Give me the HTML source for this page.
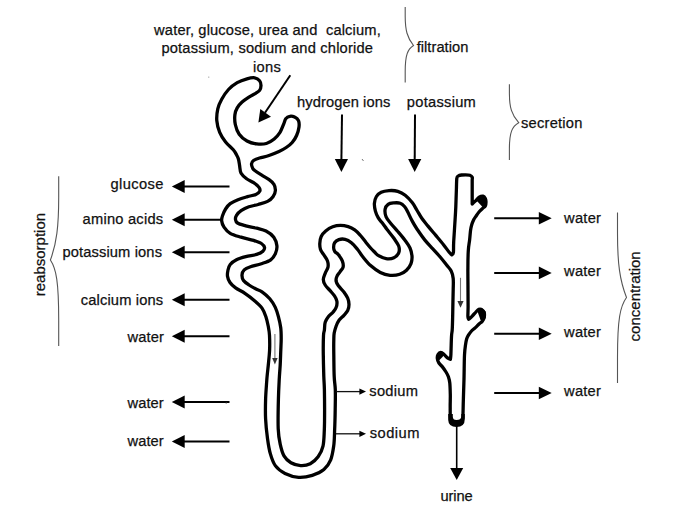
<!DOCTYPE html>
<html><head><meta charset="utf-8"><style>
html,body{margin:0;padding:0;background:#fff;width:680px;height:514px;overflow:hidden}
svg{display:block}
text{font-family:"Liberation Sans",sans-serif;font-size:14.7px;fill:#111;white-space:pre;stroke:#111;stroke-width:0.25px}
.a{stroke:#000;stroke-width:2}
.a15{stroke:#000;stroke-width:1.6}
.a13{stroke:#111;stroke-width:1.3}
.h{fill:#000}
.br{fill:none;stroke:#555;stroke-width:1.1}
.tb{fill:none;stroke:#000;stroke-width:3.3;stroke-linejoin:round}
</style></head><body>
<svg width="680" height="514" viewBox="0 0 680 514">
<rect width="680" height="514" fill="#fff"/>
<path class="tb" d="M268.3,365.0 C268.5,362.5 269.4,354.9 269.6,350.0 C269.8,345.1 269.7,339.4 269.5,335.4 C269.3,331.4 268.8,329.1 268.2,326.0 C267.6,322.9 266.9,319.7 265.9,316.7 C264.9,313.7 263.9,310.8 262.0,308.1 C260.1,305.4 257.1,302.9 254.2,300.4 C251.3,297.9 248.0,295.4 244.9,293.3 C241.8,291.2 238.1,289.7 235.6,287.9 C233.1,286.1 231.3,284.4 230.0,282.5 C228.7,280.6 227.8,278.3 227.5,276.2 C227.2,274.1 227.6,271.9 228.0,270.0 C228.4,268.1 228.8,266.2 230.2,264.5 C231.6,262.8 233.9,261.1 236.5,259.8 C239.1,258.5 242.4,257.6 245.8,256.7 C249.2,255.8 253.8,255.3 256.7,254.4 C259.5,253.5 261.6,252.4 262.9,251.2 C264.2,250.0 264.8,248.7 264.5,247.4 C264.2,246.1 263.2,244.7 261.4,243.5 C259.6,242.3 257.0,241.5 253.6,240.4 C250.2,239.3 245.0,238.4 241.1,237.2 C237.2,236.0 233.0,235.0 230.2,233.3 C227.3,231.6 225.4,229.2 224.0,227.1 C222.6,225.0 221.9,222.9 221.7,221.0 C221.4,219.1 221.8,217.8 222.5,215.8 C223.2,213.8 224.3,211.0 225.6,209.0 C226.9,207.0 228.1,205.2 230.2,203.7 C232.3,202.2 235.1,201.0 238.0,199.8 C240.9,198.6 244.4,197.6 247.4,196.7 C250.4,195.8 253.8,195.3 255.9,194.4 C258.0,193.5 259.3,192.4 259.8,191.2 C260.3,190.0 260.0,188.8 259.0,187.4 C258.0,186.0 255.7,184.1 253.6,182.7 C251.5,181.3 248.7,180.4 246.6,178.8 C244.5,177.2 242.3,175.5 241.1,173.3 C239.9,171.1 240.0,167.9 239.6,165.6 C239.2,163.3 239.0,161.1 238.5,159.3 C238.0,157.5 237.4,156.3 236.5,154.7 C235.6,153.1 235.1,151.9 233.3,149.8 C231.5,147.7 227.9,144.9 225.6,142.0 C223.3,139.1 221.2,135.9 219.7,132.3 C218.2,128.7 217.1,124.5 216.8,120.6 C216.5,116.7 217.0,112.5 217.8,108.9 C218.6,105.3 219.9,102.4 221.7,99.2 C223.5,96.0 225.9,92.3 228.5,89.5 C231.1,86.7 234.1,84.4 237.2,82.6 C240.3,80.8 244.1,79.6 247.0,78.8 C249.9,78.0 252.6,77.5 254.7,77.8 C256.8,78.1 258.6,79.4 259.6,80.7 C260.7,82.0 261.0,84.0 261.0,85.6 C261.0,87.2 260.5,89.1 259.6,90.4 C258.7,91.7 257.5,92.2 255.7,93.3 C253.9,94.4 251.2,95.7 248.9,97.2 C246.6,98.7 244.1,100.3 242.1,102.1 C240.1,103.9 238.4,105.8 237.2,107.9 C236.0,110.0 235.2,111.9 234.9,114.7 C234.6,117.5 234.6,121.2 235.3,124.5 C236.0,127.8 237.2,131.4 239.2,134.2 C241.1,136.9 244.1,139.4 247.0,141.0 C249.9,142.6 253.5,143.5 256.7,143.9 C259.9,144.3 263.5,144.3 266.4,143.5 C269.3,142.7 271.9,141.0 274.2,139.1 C276.5,137.2 278.4,134.7 280.0,132.3 C281.6,129.9 282.5,126.8 283.5,124.5 C284.5,122.2 284.8,120.0 285.9,118.6 C286.9,117.2 288.4,116.5 289.8,116.3 C291.2,116.0 293.2,116.4 294.6,117.1 C296.1,117.8 297.8,118.9 298.5,120.6 C299.2,122.2 299.3,124.5 299.0,127.0 C298.7,129.5 297.7,132.9 296.6,135.5 C295.5,138.1 293.9,140.5 292.2,142.5 C290.5,144.5 288.4,146.0 286.2,147.5 C284.0,149.0 281.9,150.2 279.0,151.5 C276.1,152.8 272.2,154.4 269.0,155.5 C265.8,156.6 262.1,157.2 259.5,158.0 C256.9,158.8 254.8,159.5 253.5,160.5 C252.2,161.5 251.6,162.7 251.5,164.0 C251.4,165.3 252.3,167.5 252.8,168.5 C253.3,169.5 253.0,169.1 254.4,170.2 C255.8,171.3 258.9,173.3 261.4,174.9 C263.8,176.5 267.0,178.1 269.1,179.6 C271.2,181.1 272.8,182.4 273.8,184.2 C274.9,186.0 275.5,188.4 275.4,190.5 C275.3,192.6 274.3,194.9 273.0,196.7 C271.7,198.5 270.1,200.1 267.6,201.4 C265.1,202.7 261.3,203.6 258.2,204.5 C255.1,205.4 251.8,205.8 248.9,206.8 C246.1,207.8 243.2,209.3 241.1,210.7 C239.0,212.1 237.4,213.9 236.5,215.4 C235.6,216.9 235.3,218.2 235.5,219.5 C235.7,220.8 235.8,221.9 237.5,223.0 C239.2,224.1 242.6,224.9 245.8,225.8 C249.0,226.7 253.3,227.3 256.7,228.2 C260.1,229.1 263.1,229.5 266.0,231.0 C268.9,232.5 272.0,234.7 273.8,237.2 C275.6,239.7 276.6,243.1 276.9,245.8 C277.2,248.5 276.4,251.3 275.4,253.6 C274.4,255.9 273.0,258.1 270.7,259.8 C268.4,261.5 264.8,262.5 261.4,263.7 C258.0,264.9 253.4,265.8 250.5,266.8 C247.6,267.8 245.6,268.5 244.2,269.9 C242.8,271.3 242.1,273.2 242.0,275.0 C241.9,276.8 242.3,278.8 243.5,280.5 C244.7,282.2 246.9,283.6 249.0,285.0 C251.1,286.4 253.8,287.9 256.0,289.0 C258.2,290.1 259.7,290.2 262.0,291.8 C264.3,293.4 267.6,296.2 269.8,298.8 C272.0,301.4 273.9,304.4 275.3,307.4 C276.7,310.4 277.5,313.3 278.4,316.7 C279.3,320.1 280.2,324.0 280.7,327.6 C281.2,331.2 281.2,334.8 281.2,338.5 C281.2,342.2 281.0,345.6 280.8,350.0 C280.6,354.4 280.5,360.0 280.2,365.0 C279.9,370.0 279.5,374.2 279.2,380.0 C278.9,385.8 278.6,391.4 278.4,399.5 C278.2,407.6 277.9,421.2 278.2,428.6 C278.5,436.1 279.2,439.6 280.2,444.2 C281.2,448.8 282.2,452.8 284.0,455.9 C285.8,459.0 288.1,461.1 290.9,462.7 C293.7,464.3 297.4,465.4 300.6,465.6 C303.8,465.8 307.4,465.2 310.3,463.7 C313.2,462.2 316.0,459.7 318.1,456.8 C320.2,453.9 322.0,450.5 323.0,446.1 C324.0,441.7 324.0,436.8 324.3,430.6 C324.6,424.5 324.6,416.0 324.6,409.2 C324.6,402.4 324.5,395.2 324.4,389.7 C324.3,384.2 324.0,382.1 323.8,376.3 C323.6,370.5 323.4,361.7 323.3,354.9 C323.2,348.1 323.3,339.8 323.5,335.6 C323.7,331.5 324.1,332.2 324.4,330.0 C324.7,327.8 324.5,324.5 325.2,322.3 C325.9,320.1 327.0,318.5 328.3,316.8 C329.6,315.1 331.7,313.8 333.0,312.2 C334.3,310.6 335.5,309.3 336.1,307.5 C336.8,305.7 337.2,303.2 336.9,301.3 C336.6,299.4 335.7,297.7 334.5,295.9 C333.3,294.1 331.4,292.2 329.9,290.4 C328.3,288.6 326.3,286.8 325.2,285.0 C324.1,283.2 323.3,281.4 323.3,279.5 C323.3,277.6 324.4,275.4 325.2,273.3 C326.0,271.2 327.6,269.2 328.0,267.1 C328.4,265.0 328.2,263.0 327.5,260.9 C326.8,258.8 324.9,256.6 323.7,254.7 C322.5,252.8 321.1,251.4 320.5,249.5 C319.9,247.6 319.7,245.7 319.8,243.5 C319.9,241.3 320.2,238.6 321.2,236.5 C322.2,234.4 323.8,232.6 325.7,231.0 C327.6,229.4 330.2,227.7 332.7,226.8 C335.2,225.9 337.9,225.4 340.5,225.4 C343.1,225.4 345.8,225.9 348.2,226.6 C350.6,227.3 352.6,228.3 354.7,229.8 C356.8,231.3 358.6,233.4 360.5,235.5 C362.4,237.6 364.3,240.4 366.0,242.5 C367.7,244.6 369.1,246.3 370.6,248.0 C372.1,249.7 373.7,251.2 375.0,252.5 C376.3,253.8 376.6,254.6 378.5,255.6 C380.4,256.6 383.5,258.3 386.1,258.7 C388.7,259.1 391.8,258.8 393.9,257.8 C396.0,256.8 397.9,254.9 398.7,252.9 C399.5,250.9 399.5,248.5 398.7,246.1 C397.9,243.7 395.8,241.1 393.9,238.3 C392.0,235.6 389.1,232.2 387.1,229.6 C385.2,227.0 383.7,224.8 382.2,222.8 C380.7,220.9 379.4,219.9 378.3,217.9 C377.2,215.9 376.0,213.5 375.4,211.1 C374.8,208.7 374.2,205.7 374.4,203.3 C374.6,200.9 375.3,198.3 376.4,196.5 C377.5,194.7 379.1,193.2 381.2,192.2 C383.3,191.2 386.2,190.8 389.0,190.6 C391.8,190.4 395.1,190.5 397.8,191.3 C400.5,192.1 402.8,193.3 405.2,195.2 C407.6,197.1 410.4,200.2 412.4,202.8 C414.4,205.4 415.5,207.9 417.1,210.5 C418.7,213.1 420.0,215.7 421.8,218.3 C423.6,220.9 425.7,223.2 428.0,226.1 C430.3,228.9 433.2,232.3 435.8,235.4 C438.4,238.5 441.3,241.9 443.5,244.7 C445.7,247.5 447.8,250.6 449.2,252.3 C450.6,254.0 451.4,254.4 451.8,254.8 C452.1,254.4 453.1,254.7 453.4,252.5 C453.7,250.3 453.4,247.1 453.7,241.6 C454.0,236.1 454.8,225.2 455.1,219.4 C455.5,213.6 455.6,211.4 455.8,206.9 C456.0,202.4 456.1,197.0 456.3,192.3 C456.5,187.6 456.5,181.2 456.8,178.5 C457.1,175.8 457.5,176.6 458.3,176.0 C459.1,175.4 460.3,175.2 461.5,175.0 C462.7,174.8 464.2,174.8 465.6,174.8 C467.0,174.8 468.8,174.8 469.9,175.2 C471.0,175.6 471.8,176.3 472.2,177.2 C472.6,178.1 472.2,178.0 472.2,180.5 C472.2,183.0 472.2,188.4 472.2,192.3 C472.2,196.2 472.2,202.1 472.2,204.0 C472.7,203.5 474.1,202.2 475.3,201.1 C476.5,200.0 477.9,198.0 479.2,197.2 C480.5,196.4 482.1,196.0 483.1,196.2 C484.1,196.4 484.8,197.4 485.3,198.4 C485.8,199.4 486.0,200.8 486.0,202.0 C486.0,203.2 485.8,204.9 485.3,205.9 C484.8,206.9 484.1,206.9 483.1,207.9 C482.1,208.9 480.3,210.5 479.2,211.8 C478.1,213.1 477.2,214.4 476.3,215.7 C475.4,217.0 474.6,218.0 473.8,219.5 C473.1,221.0 472.3,222.8 471.8,224.5 C471.3,226.2 471.0,227.4 470.6,230.0 C470.2,232.6 470.0,236.6 469.6,240.0 C469.2,243.4 468.6,245.9 468.3,250.6 C468.0,255.3 467.9,261.4 467.9,268.0 C467.8,274.6 468.0,283.6 468.0,290.0 C468.0,296.4 468.1,302.3 468.1,306.7 C468.1,311.1 467.8,314.3 467.9,316.4 C468.0,318.5 468.5,318.8 468.6,319.3 C469.2,318.8 470.8,317.6 472.0,316.4 C473.2,315.2 474.8,313.2 475.9,312.0 C477.0,310.8 477.8,309.8 478.8,309.4 C479.8,309.0 480.9,309.1 481.8,309.6 C482.7,310.1 483.8,311.2 484.2,312.5 C484.6,313.8 484.5,315.9 484.2,317.4 C483.9,318.9 483.1,320.2 482.3,321.3 C481.5,322.4 480.5,322.6 479.3,323.7 C478.1,324.8 476.7,326.4 475.4,327.6 C474.1,328.8 472.6,329.8 471.5,331.0 C470.4,332.2 469.4,333.6 468.6,334.9 C467.8,336.2 467.2,337.1 466.7,338.8 C466.2,340.5 465.9,342.3 465.5,345.0 C465.1,347.7 464.8,349.3 464.5,355.0 C464.2,360.7 464.2,371.8 464.0,379.0 C463.8,386.2 463.6,392.6 463.4,398.4 C463.2,404.2 463.1,410.6 463.0,414.0 C462.9,417.4 463.1,417.6 462.5,419.0 C461.9,420.4 460.5,421.8 459.5,422.5 C458.5,423.2 457.6,423.2 456.5,423.2 C455.4,423.2 454.2,423.1 453.2,422.5 C452.2,421.9 451.1,421.9 450.6,419.5 C450.1,417.1 450.2,412.4 450.2,408.2 C450.1,404.0 450.4,398.7 450.3,394.5 C450.2,390.3 450.1,385.9 449.8,383.0 C449.5,380.1 449.0,378.6 448.4,376.8 C447.8,375.0 447.0,373.6 446.0,372.0 C445.0,370.4 443.8,368.6 442.6,367.1 C441.4,365.6 439.8,364.4 438.9,363.0 C438.0,361.6 437.4,359.8 437.3,358.4 C437.2,357.0 437.4,355.5 438.0,354.5 C438.6,353.5 439.7,352.5 440.7,352.5 C441.7,352.5 443.0,353.6 444.1,354.5 C445.2,355.4 446.4,357.1 447.5,357.9 C448.6,358.7 449.9,359.1 450.4,359.3 C450.5,358.5 450.8,356.9 450.9,354.5 C451.0,352.1 451.1,347.9 451.2,344.7 C451.3,341.4 451.4,337.7 451.6,335.0 C451.8,332.3 452.1,332.8 452.3,328.4 C452.5,324.0 452.7,315.4 452.8,308.9 C452.9,302.4 453.1,294.6 453.2,289.5 C453.3,284.4 453.5,281.6 453.2,278.5 C452.9,275.4 452.4,273.4 451.3,271.2 C450.2,268.9 448.4,267.3 446.6,265.0 C444.8,262.7 442.7,259.9 440.4,257.2 C438.1,254.5 435.2,251.4 432.6,248.6 C430.0,245.8 427.5,243.3 424.9,240.1 C422.3,236.9 419.2,232.3 417.1,229.2 C415.0,226.1 413.9,224.2 412.4,221.4 C410.8,218.6 409.1,214.6 407.8,212.1 C406.5,209.6 405.8,208.0 404.5,206.5 C403.2,205.0 402.0,203.8 400.2,203.2 C398.4,202.6 395.9,202.7 393.9,202.9 C391.9,203.1 389.6,203.2 388.1,204.3 C386.6,205.4 385.4,207.1 385.1,209.2 C384.8,211.3 385.1,214.5 386.1,216.9 C387.1,219.3 389.1,221.3 391.0,223.7 C392.9,226.1 395.5,228.8 397.8,231.5 C400.1,234.2 402.6,237.1 404.6,239.8 C406.6,242.6 408.8,245.3 410.0,248.0 C411.2,250.7 411.8,253.4 412.0,256.0 C412.2,258.6 411.9,261.2 411.0,263.6 C410.1,266.0 408.4,268.4 406.5,270.2 C404.6,272.0 402.4,273.4 399.7,274.3 C396.9,275.2 393.2,275.6 390.0,275.3 C386.8,275.0 383.5,274.0 380.3,272.4 C377.1,270.8 373.5,268.2 370.6,265.6 C367.7,263.0 365.0,259.5 362.8,256.8 C360.6,254.1 359.5,251.8 357.6,249.5 C355.7,247.2 353.5,244.4 351.4,242.7 C349.3,241.0 347.2,239.8 345.1,239.3 C343.0,238.8 340.6,239.0 338.9,239.6 C337.1,240.2 335.5,241.4 334.6,242.7 C333.7,244.0 333.6,246.0 333.6,247.5 C333.6,249.0 334.0,250.3 334.8,251.5 C335.6,252.7 337.1,253.1 338.4,254.7 C339.6,256.3 341.5,258.8 342.3,260.9 C343.1,263.0 343.5,265.3 343.1,267.1 C342.7,268.9 341.0,270.2 340.0,271.8 C339.0,273.4 337.5,274.8 336.9,276.4 C336.2,277.9 335.9,279.5 336.1,281.1 C336.4,282.7 337.1,284.0 338.4,285.8 C339.7,287.6 342.3,289.9 343.9,292.0 C345.4,294.1 346.8,296.1 347.7,298.2 C348.6,300.3 349.0,302.3 349.0,304.4 C349.0,306.5 348.6,308.8 347.7,310.6 C346.8,312.4 345.3,313.7 343.9,315.3 C342.5,316.9 340.5,318.2 339.2,320.0 C337.9,321.8 336.9,324.0 336.1,326.2 C335.3,328.4 334.6,330.7 334.2,333.0 C333.8,335.3 333.9,336.4 333.8,340.0 C333.7,343.6 333.7,348.8 333.8,354.9 C333.9,360.9 333.9,370.5 334.2,376.3 C334.4,382.1 335.1,384.2 335.3,389.7 C335.5,395.2 335.3,402.4 335.2,409.2 C335.1,416.0 334.9,424.5 334.6,430.6 C334.4,436.8 334.4,441.2 333.7,446.1 C333.0,451.0 332.3,455.9 330.7,459.8 C329.1,463.7 327.0,466.9 323.9,469.5 C320.8,472.1 316.5,474.0 312.3,475.3 C308.1,476.6 303.2,477.6 298.6,477.3 C294.1,477.0 288.9,475.3 285.0,473.4 C281.1,471.4 277.7,468.9 275.3,465.6 C272.9,462.4 271.7,458.4 270.4,453.9 C269.1,449.4 268.3,444.2 267.5,438.4 C266.7,432.6 265.9,425.4 265.6,418.9 C265.3,412.4 265.4,406.0 265.6,399.5 C265.8,393.0 266.4,385.8 266.8,380.0 C267.2,374.2 268.1,367.5 268.3,365.0 Z"/>
<path d="M448.2,414 L448.2,420 Q448.5,427 456.5,427 Q464.8,427 464.8,419 L464.8,414 L461.3,414 L461.3,417 Q461,420 456.5,420 Q452.8,420 452.8,416.5 L452.8,414 Z" fill="#000"/>
<path d="M476,200 L482.5,195 L486.8,199 L486.8,205.5 L484,208.5 Z" fill="#000"/>
<path d="M477,310 L481.5,307.8 L485.6,311.5 L485.6,318 L482.5,322.5 L480.5,320 Z" fill="#000"/>
<path d="M437.5,353 L441,351 L445,353.6 L442.5,357 L439,360.5 L436,358 Z" fill="#000"/>
<line x1="183.70000000000002" y1="186.5" x2="229.5" y2="186.5" class="a"/><path d="M171.8,186.5 L184.70000000000002,180.0 L184.70000000000002,193.0 Z" class="h"/><line x1="183.70000000000002" y1="219.7" x2="221" y2="219.7" class="a"/><path d="M171.8,219.7 L184.70000000000002,213.2 L184.70000000000002,226.2 Z" class="h"/><line x1="183.70000000000002" y1="252.2" x2="229.5" y2="252.2" class="a"/><path d="M171.8,252.2 L184.70000000000002,245.7 L184.70000000000002,258.7 Z" class="h"/><line x1="183.70000000000002" y1="299.8" x2="229.5" y2="299.8" class="a"/><path d="M171.8,299.8 L184.70000000000002,293.3 L184.70000000000002,306.3 Z" class="h"/><line x1="183.70000000000002" y1="336.2" x2="229.5" y2="336.2" class="a"/><path d="M171.8,336.2 L184.70000000000002,329.7 L184.70000000000002,342.7 Z" class="h"/><line x1="183.70000000000002" y1="402" x2="229.5" y2="402" class="a"/><path d="M171.8,402 L184.70000000000002,395.5 L184.70000000000002,408.5 Z" class="h"/><line x1="183.70000000000002" y1="441.5" x2="229.5" y2="441.5" class="a"/><path d="M171.8,441.5 L184.70000000000002,435.0 L184.70000000000002,448.0 Z" class="h"/><line x1="494.2" y1="218.2" x2="539.8000000000001" y2="218.2" class="a"/><path d="M551.7,218.2 L538.8000000000001,211.89999999999998 L538.8000000000001,224.5 Z" class="h"/><line x1="494.2" y1="272.9" x2="539.8000000000001" y2="272.9" class="a"/><path d="M551.7,272.9 L538.8000000000001,266.59999999999997 L538.8000000000001,279.2 Z" class="h"/><line x1="494.2" y1="333.8" x2="539.8000000000001" y2="333.8" class="a"/><path d="M551.7,333.8 L538.8000000000001,327.5 L538.8000000000001,340.1 Z" class="h"/><line x1="494.2" y1="393" x2="539.8000000000001" y2="393" class="a"/><path d="M551.7,393 L538.8000000000001,386.7 L538.8000000000001,399.3 Z" class="h"/><line x1="342" y1="114.5" x2="341.4" y2="160" class="a"/><path d="M341.4,172 L334.79999999999995,159 L348.0,159 Z" class="h"/><line x1="415" y1="114.5" x2="414.7" y2="160" class="a"/><path d="M414.7,172 L408.09999999999997,159 L421.3,159 Z" class="h"/><line x1="456.7" y1="426" x2="456.7" y2="469.1" class="a15"/><path d="M456.7,480.1 L450.2,468.1 L463.2,468.1 Z" class="h"/><line x1="336" y1="391.6" x2="360" y2="391.6" class="a13"/><path d="M366,391.6 L359.4,388.5 L359.4,394.70000000000005 Z" class="h"/><line x1="336" y1="433.8" x2="360" y2="433.8" class="a13"/><path d="M366,433.8 L359.4,430.7 L359.4,436.90000000000003 Z" class="h"/><line x1="274.9" y1="334" x2="274.9" y2="359" stroke="#777" stroke-width="1.1"/><path d="M274.9,364.4 L272.2,358 L277.6,358 Z" fill="#333"/><line x1="460.5" y1="277.8" x2="460.5" y2="302" stroke="#777" stroke-width="1.1"/><path d="M460.5,307.7 L457.4,301 L463.6,301 Z" fill="#333"/><line x1="290.3" y1="75.3" x2="265" y2="112.8" class="a"/><path d="M258.4,122.6 L260.3,109.1 L271,116.7 Z" class="h"/><path d="M405.2,7 L405.2,16.6 C405.2,30.1 407.3,37.8 413.5,45.5 C407.7,49.2 405.2,54.8 405.2,71.5 L405.2,82.6" class="br"/><path d="M509.4,84.2 L509.4,93.8 C509.4,107.3 511.7,115.0 518.7,122.7 C512.2,126.4 509.4,132.0 509.4,148.8 L509.4,160" class="br"/><path d="M617.5,212.5 L617.5,233.8 C617.5,263.5 619.8,280.5 626.5,297.5 C620.2,306.1 617.5,318.9 617.5,357.4 L617.5,383" class="br"/><path d="M58.7,176.3 L58.7,197.2 C58.7,226.5 56.6,243.3 50.4,260 C56.2,268.6 58.7,281.5 58.7,320.2 L58.7,346" class="br"/>
<text id="line1" x="154.12" y="35.10" textLength="226.62">water, glucose, urea and&#160; calcium,</text><text id="line2" x="161.40" y="53.30" textLength="211.52">potassium, sodium and chloride</text><text id="ions" x="253.04" y="71.80" textLength="27.75">ions</text><text id="filtration" x="416.70" y="52.40" textLength="51.60">filtration</text><text id="hydrogen" x="297.04" y="106.70" textLength="93.24">hydrogen ions</text><text id="potassium" x="406.82" y="106.70" textLength="69.03">potassium</text><text id="secretion" x="521.04" y="127.50" textLength="61.37">secretion</text><text id="glucose" x="110.54" y="189.30" textLength="52.86">glucose</text><text id="amino" x="82.54" y="224.00" textLength="80.61">amino acids</text><text id="potions" x="62.40" y="257.10" textLength="99.57">potassium ions</text><text id="calcium" x="80.76" y="305.40" textLength="82.41">calcium ions</text><text id="waterL1" x="127.40" y="342.10" textLength="36.56">water</text><text id="waterL2" x="127.62" y="408.20" textLength="35.92">water</text><text id="waterL3" x="127.62" y="446.30" textLength="35.92">water</text><text id="waterR1" x="564.12" y="223.30" textLength="36.88">water</text><text id="waterR2" x="564.12" y="276.30" textLength="36.72">water</text><text id="waterR3" x="564.12" y="336.70" textLength="36.72">water</text><text id="waterR4" x="564.12" y="395.50" textLength="36.72">water</text><text id="sodium1" x="369.26" y="396.30" textLength="48.80">sodium</text><text id="sodium2" x="369.82" y="438.20" textLength="49.60">sodium</text><text id="urine" x="440.40" y="501.40" textLength="32.35">urine</text><text transform="translate(45.0,296.3) rotate(-90)" style="font-size:15px">reabsorption</text><text transform="translate(640.2,341.4) rotate(-90)" style="font-size:15px">concentration</text>
<circle cx="208.8" cy="77.1" r="0.6" fill="#888"/>
<path d="M362,159 L363.5,161" stroke="#666" stroke-width="0.9"/>
<circle cx="226.2" cy="403.2" r="0.6" fill="#777"/>
</svg>
</body></html>
